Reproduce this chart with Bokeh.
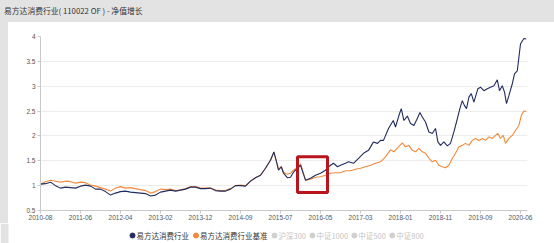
from bokeh.plotting import figure
from bokeh.models import Range1d, FixedTicker, NumeralTickFormatter, Div, Spacer
from bokeh.core.properties import value
from bokeh.layouts import column, row
from bokeh.embed import file_html
from bokeh.resources import INLINE

# ---------------- data ----------------
title_text = "易方达消费行业( 110022 OF ) - 净值增长"

tick_days = [0, 200, 400, 600, 800, 1000, 1200, 1400, 1600, 1800, 2000, 2200, 2400]
tick_labels = ["2010-08", "2011-06", "2012-04", "2013-02", "2013-12", "2014-09", "2015-07",
               "2016-05", "2017-03", "2018-01", "2018-11", "2019-09", "2020-06"]

series_names = ["易方达消费行业", "易方达消费行业基准", "沪深300", "中证1000", "中证500", "中证800"]
series_active = [True, True, False, False, False, False]

# trading-day index of each sample
fund_day = [0, 25, 50, 75, 100, 125, 150, 175, 200, 225, 250, 275, 300, 325, 350, 375, 400, 425,
            450, 475, 500, 525, 550, 575, 600, 625, 650, 675, 700, 725, 750, 775, 800, 825, 850,
            875, 900, 925, 950, 975, 1000, 1025, 1050, 1075, 1100, 1125, 1150,
            1167, 1180, 1190, 1204, 1215, 1234, 1250, 1265, 1285,
            1300, 1325, 1350, 1375, 1400, 1425,
            1440, 1465, 1485, 1500, 1525, 1540, 1565, 1590, 1615, 1640, 1665, 1685,
            1700, 1715, 1740, 1764, 1775, 1792, 1804, 1817, 1834, 1850,
            1867, 1884, 1897, 1909, 1925, 1942, 1959, 1975, 1987, 2000,
            2017, 2034, 2050, 2067, 2080, 2097, 2109, 2120, 2130, 2142,
            2154, 2167, 2187, 2200, 2217, 2234, 2250, 2267, 2284, 2295,
            2309, 2320, 2330, 2342, 2359, 2370, 2384, 2392, 2400, 2409,
            2417, 2429]
fund_nav = [1.03, 1.04, 1.07, 1.00, 0.95, 0.97, 0.96, 0.95, 0.99, 1.01,
            0.99, 0.93, 0.93, 0.88, 0.81, 0.85, 0.88, 0.89, 0.87, 0.86,
            0.85, 0.84, 0.79, 0.81, 0.87, 0.89, 0.91, 0.89, 0.91, 0.93,
            0.97, 0.97, 0.94, 0.94, 0.95, 0.90, 0.89, 0.89, 0.93, 1.00,
            1.00, 0.99, 1.09, 1.16, 1.21, 1.35, 1.51,
            1.68, 1.48, 1.31, 1.38, 1.25, 1.16, 1.17, 1.27, 1.35,
            1.41, 1.11, 1.15, 1.21, 1.25, 1.31,
            1.38, 1.45, 1.38, 1.41, 1.45, 1.48, 1.45, 1.55, 1.65, 1.71, 1.88, 1.85,
            1.91, 1.91, 2.15, 2.31, 2.18, 2.41, 2.55, 2.31, 2.40, 2.25,
            2.21, 2.35, 2.47, 2.38, 2.28, 2.08, 2.05, 2.15, 1.88, 1.81,
            1.88, 1.80, 1.85, 2.08, 2.28, 2.55, 2.71, 2.61, 2.55, 2.78,
            2.85, 2.68, 2.95, 2.98, 2.91, 2.95, 2.98, 3.01, 3.13, 2.91,
            3.01, 2.88, 2.65, 2.81, 3.05, 3.25, 3.31, 3.58, 3.85, 3.91,
            3.96, 3.95]

bench_day = [0, 25, 50, 75, 100, 125, 150, 175, 200, 225, 250, 275, 300, 325, 350, 375, 400, 425,
             450, 475, 500, 525, 550, 575, 600, 625, 650, 675, 700, 725, 750, 775, 800, 825, 850,
             875, 900, 925, 950, 975, 1000, 1025, 1050, 1075, 1100, 1125, 1150,
             1167, 1180, 1190, 1204, 1215, 1234, 1250, 1265, 1285,
             1300, 1325, 1350, 1375, 1400, 1425, 1450, 1475, 1500, 1525, 1550, 1575, 1600, 1625,
             1650, 1675, 1700,
             1725, 1750, 1767, 1792, 1809, 1825, 1842, 1859, 1875, 1892,
             1909, 1925, 1942, 1959, 1975, 1992, 2009, 2025, 2042, 2059,
             2075, 2092, 2109, 2125, 2142, 2159, 2175, 2192, 2209, 2225,
             2242, 2259, 2275, 2287, 2300, 2314, 2325, 2342, 2359, 2375,
             2392, 2404, 2417, 2429]
bench_nav = [1.03, 1.08, 1.11, 1.09, 1.07, 1.09, 1.08, 1.05, 1.07, 1.06,
             1.01, 0.99, 0.96, 0.93, 0.89, 0.95, 0.98, 0.95, 0.96, 0.94,
             0.92, 0.90, 0.85, 0.88, 0.93, 0.92, 0.93, 0.90, 0.91, 0.94,
             0.98, 0.98, 0.95, 0.95, 0.95, 0.91, 0.90, 0.90, 0.94, 1.00,
             1.01, 1.00, 1.09, 1.16, 1.21, 1.35, 1.51,
             1.67, 1.49, 1.33, 1.38, 1.27, 1.23, 1.25, 1.31, 1.37,
             1.44, 1.11, 1.13, 1.17, 1.18, 1.21, 1.25, 1.26, 1.26, 1.30, 1.30, 1.33, 1.35, 1.38,
             1.41, 1.45, 1.48,
             1.58, 1.72, 1.68, 1.79, 1.86, 1.78, 1.81, 1.71, 1.68, 1.75,
             1.68, 1.65, 1.55, 1.48, 1.51, 1.41, 1.38, 1.36, 1.41, 1.55,
             1.65, 1.78, 1.81, 1.85, 1.81, 1.91, 1.95, 1.91, 1.95, 1.91,
             1.98, 1.95, 2.01, 2.05, 1.95, 2.01, 1.85, 1.95, 2.01, 2.11,
             2.21, 2.41, 2.50, 2.49]

# highlighted period (red frame)
highlight_days = [1285, 1435]
highlight_vals = [0.86, 1.58]

y_ticks = [0.5, 1, 1.5, 2, 2.5, 3, 3.5, 4]

# ---------------- styling ----------------
NAVY = "#222c5f"
ORANGE = "#f3893a"
GREY_BG = "#e3e3e3"
CJK = "Noto Sans CJK SC"

# ---- title band ----
title = Div(text=f'<div style="font-family:\'{CJK}\';font-size:7.8px;color:#333;'
                 f'line-height:22px;padding-left:4px;white-space:nowrap">{title_text}</div>',
            width=554, height=22, margin=0, styles={"background-color": GREY_BG})
left_strip = Spacer(width=8, height=201, margin=0, styles={"background-color": GREY_BG})

# ---- main chart ----
p = figure(width=546, height=201, output_backend="svg", toolbar_location=None,
           x_range=Range1d(0, 2435), y_range=Range1d(0.5, 4.0),
           min_border_left=32, min_border_right=27, min_border_top=14, min_border_bottom=13,
           border_fill_color="white", background_fill_color="white", outline_line_color=None)

p.line(bench_day, bench_nav, line_color=ORANGE, line_width=1.1)
p.line(fund_day, fund_nav, line_color=NAVY, line_width=1.1)

p.quad(left=[highlight_days[0]], right=[highlight_days[1]],
       bottom=[highlight_vals[0]], top=[highlight_vals[1]],
       fill_color=None, line_color="#b8161c", line_width=3)

p.xaxis.ticker = FixedTicker(ticks=tick_days)
p.xaxis.major_label_overrides = {d: l for d, l in zip(tick_days, tick_labels)}
p.yaxis.ticker = FixedTicker(ticks=y_ticks)
p.yaxis.formatter = NumeralTickFormatter(format="0.[0]")
for ax in (p.xaxis, p.yaxis):
    ax.axis_line_color = "#c9c9c9"
    ax.major_tick_line_color = "#c9c9c9"
    ax.major_tick_out = 3
    ax.major_tick_in = 0
    ax.minor_tick_line_color = None
    ax.major_label_text_font = "Liberation Sans"
    ax.major_label_text_font_size = "6.5px"
    ax.major_label_text_color = "#555555"
p.xaxis.major_label_standoff = 1
p.yaxis.major_label_standoff = 2
p.xgrid.visible = False
p.ygrid.grid_line_color = "#ececec"

# ---- legend strip ----
lg = figure(width=554, height=20, output_backend="svg", toolbar_location=None,
            x_range=Range1d(0, 554), y_range=Range1d(0, 20),
            x_axis_type=None, y_axis_type=None, min_border=0,
            border_fill_color="white", background_fill_color="white", outline_line_color=None)
lg.grid.visible = False
lg.quad(left=[0], right=[8], bottom=[0], top=[20], fill_color=GREY_BG, line_color=None)

LEGEND_FONT = 7.5

def text_width(s, size=LEGEND_FONT):
    return sum(size if ord(ch) > 255 else size * 0.53 for ch in s)

dot_x, dot_c, lab_x, lab_c = [], [], [], []
cursor = 129.0
for name, active, c in zip(series_names, series_active, [NAVY, ORANGE] + ["#d0d0d0"] * 4):
    dot_x.append(cursor + 3)
    dot_c.append(c)
    lab_x.append(cursor + 7)
    lab_c.append("#333333" if active else "#c4c4c4")
    cursor += 7 + text_width(name) + 4

lg.scatter(x=dot_x, y=[8] * len(dot_x), marker="circle", size=5, fill_color=dot_c, line_color=dot_c)
lg.text(x=lab_x, y=[8] * len(lab_x), text=series_names, text_font=value(CJK),
        text_font_size=f"{LEGEND_FONT}px", text_color=lab_c, text_baseline="middle",
        text_align="left")

layout = column(title, row(left_strip, p, spacing=0), lg, spacing=0)

open("out.html", "w").write(file_html(layout, INLINE))
